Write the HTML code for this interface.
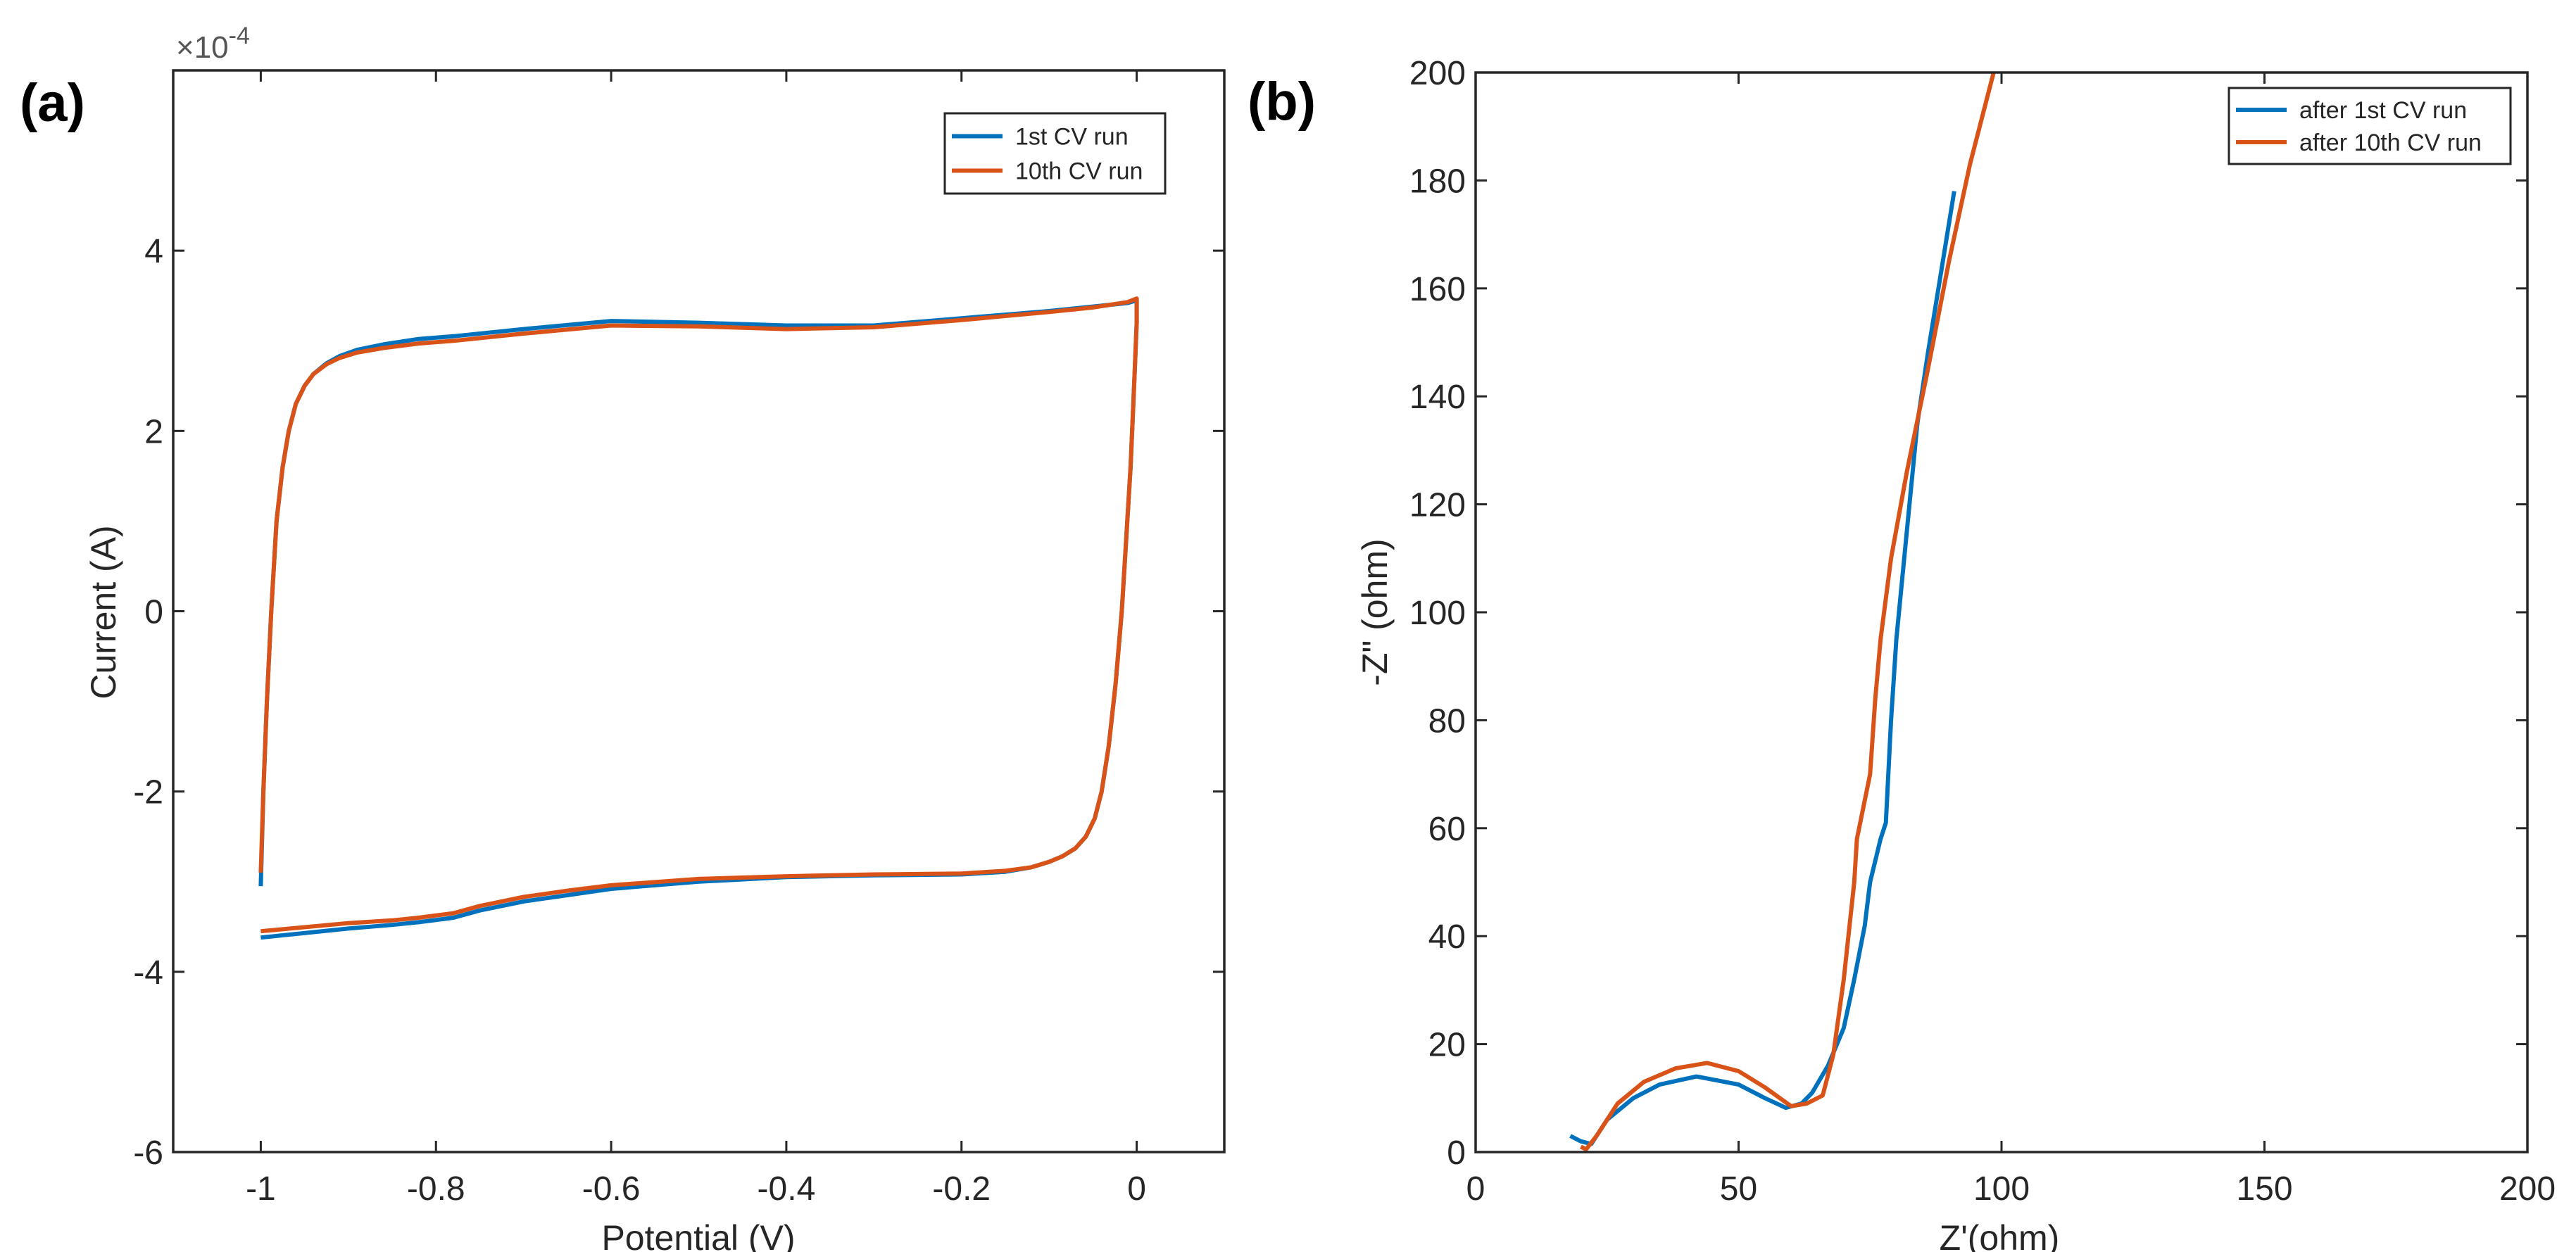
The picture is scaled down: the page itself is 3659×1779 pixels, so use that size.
<!DOCTYPE html>
<html><head><meta charset="utf-8">
<style>
html,body{margin:0;padding:0;background:#fff;}
svg{display:block;font-family:"Liberation Sans",Arial,sans-serif;}
</style></head>
<body>
<svg id="fig" width="3659" height="1779" viewBox="0 0 3659 1779" xmlns="http://www.w3.org/2000/svg">
<rect width="3659" height="1779" fill="#fff"/>
<g id="pa"></g>
<g id="pb"></g>
</svg>
<script>
// Panel (a) data: cyclic voltammetry
const cvX1 = [-1,-0.997,-0.993,-0.988,-0.982,-0.975,-0.968,-0.96,-0.95,-0.94,-0.925,-0.91,-0.89,-0.86,-0.82,-0.78,-0.7,-0.6,-0.5,-0.4,-0.3,-0.2,-0.1,-0.05,-0.01,0,0,-0.003,-0.007,-0.012,-0.017,-0.024,-0.032,-0.04,-0.048,-0.058,-0.07,-0.085,-0.1,-0.12,-0.15,-0.2,-0.3,-0.4,-0.5,-0.6,-0.65,-0.7,-0.75,-0.78,-0.82,-0.85,-0.9,-1];
const cvY1 = [-3.05,-2,-1,0,1,1.6,2.0,2.3,2.5,2.63,2.75,2.83,2.9,2.96,3.02,3.05,3.13,3.22,3.2,3.17,3.17,3.25,3.33,3.38,3.42,3.45,3.2,2.5,1.6,0.8,0,-0.8,-1.5,-2.0,-2.3,-2.5,-2.63,-2.72,-2.78,-2.84,-2.89,-2.92,-2.93,-2.95,-3.0,-3.08,-3.15,-3.22,-3.32,-3.4,-3.45,-3.48,-3.52,-3.62];
const cvX10 = [-1,-0.997,-0.993,-0.988,-0.982,-0.975,-0.968,-0.96,-0.95,-0.94,-0.925,-0.91,-0.89,-0.86,-0.82,-0.78,-0.7,-0.6,-0.5,-0.4,-0.3,-0.2,-0.1,-0.05,-0.01,0,0,-0.003,-0.007,-0.012,-0.017,-0.024,-0.032,-0.04,-0.048,-0.058,-0.07,-0.085,-0.1,-0.12,-0.15,-0.2,-0.3,-0.4,-0.5,-0.6,-0.65,-0.7,-0.75,-0.78,-0.82,-0.85,-0.9,-1];
const cvY10 = [-2.9,-2,-1,0,1,1.6,2.0,2.3,2.5,2.63,2.74,2.81,2.87,2.92,2.97,3.0,3.08,3.17,3.16,3.13,3.15,3.23,3.32,3.37,3.43,3.47,3.2,2.5,1.6,0.8,0,-0.8,-1.5,-2.0,-2.3,-2.5,-2.63,-2.72,-2.78,-2.84,-2.88,-2.91,-2.92,-2.94,-2.97,-3.04,-3.1,-3.17,-3.27,-3.35,-3.4,-3.43,-3.46,-3.55];
const cvXTicks = [-1,-0.8,-0.6,-0.4,-0.2,0];
const cvXTickLabels = ["-1","-0.8","-0.6","-0.4","-0.2","0"];
const cvYTicks = [-6,-4,-2,0,2,4];
const cvYTickLabels = ["-6","-4","-2","0","2","4"];
// Panel (b) data: Nyquist
const nyX1 = [18,20,22,25,30,35,42,50,55,59,62,64,67,70,72,74,75,77,78,79,80,82,84,86,88,91];
const nyY1 = [3,2,1.5,6,10,12.5,14,12.5,10,8.2,9,11,16,23,32,42,50,58,61,80,95,115,135,148,160,178];
const nyX10 = [20,21,23,27,32,38,44,50,55,60,63,66,68,70,72,72.5,75,76,77,79,82,86,90,94,98.5];
const nyY10 = [1,0.5,3,9,13,15.5,16.5,15,12,8.5,9,10.5,18,32,50,58,70,84,95,110,126,145,165,183,200];
const nyXTicks = [0,50,100,150,200];
const nyYTicks = [0,20,40,60,80,100,120,140,160,180,200];

const NS="http://www.w3.org/2000/svg";
function mk(parent,tag,attrs,text){const e=document.createElementNS(NS,tag);for(const k in attrs)e.setAttribute(k,attrs[k]);if(text!==undefined)e.textContent=text;parent.appendChild(e);return e;}
const BLUE="#0072BD", ORANGE="#D95319", AX="#262626";

function axes(L,R,T,B,xmin,xmax,ymin,ymax){
  const sx=v=>L+(v-xmin)/(xmax-xmin)*(R-L);
  const sy=v=>B-(v-ymin)/(ymax-ymin)*(B-T);
  return {sx,sy};
}
function frame(g,L,R,T,B,xt,xl,yt,yl,sx,sy){
  for(let i=0;i<xt.length;i++){
    const x=sx(xt[i]);
    const t1=mk(g,'line',{x1:x,x2:x,y1:B,y2:B-16,stroke:AX,'stroke-width':3});
    
    const t2=mk(g,'line',{x1:x,x2:x,y1:T,y2:T+16,stroke:AX,'stroke-width':3});
    
    const tx=mk(g,'text',{x:x,y:B+68,'font-size':48,fill:AX,'text-anchor':'middle'},xl[i]);
    
  }
  for(let i=0;i<yt.length;i++){
    const y=sy(yt[i]);
    const t1=mk(g,'line',{x1:L,x2:L+16,y1:y,y2:y,stroke:AX,'stroke-width':3});
    
    const t2=mk(g,'line',{x1:R,x2:R-16,y1:y,y2:y,stroke:AX,'stroke-width':3});
    
    const tx=mk(g,'text',{x:L-14,y:y+17,'font-size':48,fill:AX,'text-anchor':'end'},yl[i]);
    
  }
  const r=mk(g,'rect',{x:L,y:T,width:R-L,height:B-T,fill:'none',stroke:AX,'stroke-width':3.5});
  
}
function series(g,xs,ys,sx,sy,color,name){
  const pts=xs.map((x,i)=>sx(x).toFixed(1)+','+sy(ys[i]).toFixed(1)).join(' ');
  const p=mk(g,'polyline',{points:pts,fill:'none',stroke:color,'stroke-width':6,'stroke-linejoin':'round'});
  
}
function legend(g,x,y,w,h,items){
  const lg=mk(g,'g',{});
  
  mk(lg,'rect',{x:x,y:y,width:w,height:h,fill:'#fff',stroke:AX,'stroke-width':3});
  items.forEach((it,i)=>{
    const cy=y+h*(i+0.5)/items.length+(i==0?4:-4);
    const e=mk(lg,'g',{});
    
    mk(e,'line',{x1:x+10,x2:x+82,y1:cy,y2:cy,stroke:it[1],'stroke-width':6});
    mk(e,'text',{x:x+100,y:cy+12,'font-size':34,fill:AX},it[0]);
  });
}

// Panel a
const ga=document.getElementById('pa');
{
  const L=246,R=1739,T=100,B=1637;
  const {sx,sy}=axes(L,R,T,B,-1.1,0.1,-6,6);
  series(ga,cvX1,cvY1,sx,sy,BLUE,'series-1st-cv-run');
  series(ga,cvX10,cvY10,sx,sy,ORANGE,'series-10th-cv-run');
  frame(ga,L,R,T,B,cvXTicks,cvXTickLabels,cvYTicks,cvYTickLabels,sx,sy);
  legend(ga,1342,161,313,114,[["1st CV run",BLUE],["10th CV run",ORANGE]]);
  let t=mk(ga,'text',{x:250,y:82,'font-size':44,fill:'#555'});
  
  t.innerHTML='×10<tspan dy="-20" font-size="34">-4</tspan>';
  t=mk(ga,'text',{x:992,y:1776,'font-size':50,fill:AX,'text-anchor':'middle'},'Potential (V)');
  
  t=mk(ga,'text',{x:164,y:870,'font-size':50,fill:AX,'text-anchor':'middle',transform:'rotate(-90 164 870)'},'Current (A)');
  
  t=mk(ga,'text',{x:28,y:172,'font-size':76,'font-weight':'bold',fill:'#000'},'(a)');
  
}
// Panel b
const gb=document.getElementById('pb');
{
  const L=2096,R=3590,T=103,B=1637;
  const {sx,sy}=axes(L,R,T,B,0,200,0,200);
  const cp=mk(gb,'clipPath',{id:'cb'});mk(cp,'rect',{x:L,y:T,width:R-L,height:B-T});
  const inner=mk(gb,'g',{'clip-path':'url(#cb)'});
  
  series(inner,nyX1,nyY1,sx,sy,BLUE,'series-after-1st-cv-run');
  series(inner,nyX10,nyY10,sx,sy,ORANGE,'series-after-10th-cv-run');
  frame(gb,L,R,T,B,nyXTicks,nyXTicks.map(String),nyYTicks,nyYTicks.map(String),sx,sy);
  legend(gb,3166,125,400,108,[["after 1st CV run",BLUE],["after 10th CV run",ORANGE]]);
  let t=mk(gb,'text',{x:2840,y:1776,'font-size':50,fill:AX,'text-anchor':'middle'},"Z'(ohm)");
  
  t=mk(gb,'text',{x:1970,y:870,'font-size':50,fill:AX,'text-anchor':'middle',transform:'rotate(-90 1970 870)'},'-Z" (ohm)');
  
  t=mk(gb,'text',{x:1772,y:170,'font-size':76,'font-weight':'bold',fill:'#000'},'(b)');
  
}
</script>
</body></html>
